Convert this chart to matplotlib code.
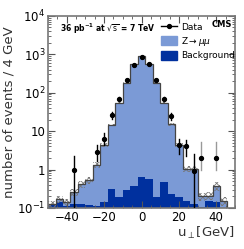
"""u_perp distribution, Z->mumu selection, 36 pb-1 at 7 TeV."""
import numpy as np
import matplotlib
matplotlib.use('Agg')
import matplotlib.pyplot as plt
from matplotlib.lines import Line2D
from matplotlib.patches import Patch

# 4 GeV bins from -50 to 50
bin_edges = np.arange(-50, 54, 4)

# stacked MC total (Z->mumu + background), read per bin
mc_total = [0.125, 0.17, 0.14, 0.26, 0.42, 0.52, 1.3, 4.3, 14.5, 55, 180, 550, 900,
            550, 180, 55, 15, 4.4, 1.05, 1.05, 0.2, 0.21, 0.37, 0.15, 0.08]
background = [0.12, 0.14, 0.115, 0.13, 0.13, 0.12, 0.11, 0.14, 0.31, 0.19, 0.30, 0.38, 0.62,
              0.56, 0.19, 0.48, 0.23, 0.19, 0.15, 0.125, 0.105, 0.15, 0.14, 0.10, 0.06]
# relative MC uncertainty (hatched band)
mc_rel_unc = [0.22, 0.22, 0.22, 0.2, 0.2, 0.2, 0.18, 0.12, 0.08, 0.05, 0.04, 0.03, 0.03,
              0.03, 0.04, 0.05, 0.08, 0.12, 0.18, 0.18, 0.25, 0.25, 0.25, 0.25, 0.25]

data_x = [-36, -24, -20, -16, -12, -8, -4, 0, 4, 8, 12, 16, 20, 24, 28, 32, 40]
data_y = [1.0, 2.8, 6.3, 26, 69, 215, 520, 830, 550, 215, 69, 25, 4.4, 4.0, 0.9, 2.0, 2.0]
data_lo = [0.05, 1.7, 4.4, 21, 61, 202, 503, 805, 528, 202, 61, 20, 2.5, 2.2, 0.05, 1.0, 1.0]
data_hi = [2.3, 4.3, 8.7, 31, 77, 228, 540, 855, 572, 228, 77, 30, 6.3, 6.0, 2.5, 5.3, 5.3]
data_gray = [False] * 15 + [True, True]

light_blue = '#7b9ad6'
dark_blue = '#00309e'

plt.rcParams['hatch.linewidth'] = 0.6
fig = plt.figure(figsize=(2.44, 2.49), dpi=100)
ax = fig.add_axes([0.197, 0.165, 0.766, 0.771])

mc_total = np.array(mc_total)
unc = np.array(mc_rel_unc)
ax.stairs(mc_total, bin_edges, baseline=1e-3, fill=True, color=light_blue, lw=0)
ax.stairs(background, bin_edges, baseline=1e-3, fill=True, color=dark_blue, lw=0)
ax.stairs(mc_total * (1 + unc), bin_edges, baseline=mc_total * (1 - unc), fill=True,
          facecolor='none', edgecolor='#777777', hatch='xxxxxx', lw=0)
ax.stairs(mc_total, bin_edges, baseline=None, color='#444444', lw=0.9)

for x, y, lo, hi, g in zip(data_x, data_y, data_lo, data_hi, data_gray):
    c = '#999999' if g else 'black'
    ax.plot([x, x], [lo, hi], color=c, lw=1.0, zorder=5)
    ax.plot(x, y, 'o', color='black', ms=2.8, zorder=6)

ax.set_yscale('log')
ax.set_ylim(0.1, 1e4)
ax.set_xlim(-50, 50)
ax.set_xticks([-40, -20, 0, 20, 40])
ax.tick_params(which='both', direction='in', top=True, right=True, labelsize=8.5,
               color='#555555', pad=2)
ax.tick_params(which='major', length=5)
ax.tick_params(which='minor', length=2.5)
ax.xaxis.set_minor_locator(matplotlib.ticker.MultipleLocator(5))
ax.set_yticks([0.1, 1, 10, 100, 1000, 10000])
ax.set_yticklabels(['$10^{-1}$', '1', '10', '$10^2$', '$10^3$', '$10^4$'])
for s in ax.spines.values():
    s.set_color('#777777')
    s.set_linewidth(1.2)

ax.set_ylabel('number of events / 4 GeV', fontsize=9.5, color='#333333', labelpad=1)
ax.set_xlabel(r'u$_{\perp}$[GeV]', fontsize=9.5, color='#333333', loc='right', labelpad=1)

ax.text(0.065, 0.935, r'36 pb$^{\mathbf{-1}}$ at $\sqrt{\mathrm{s}}$ = 7 TeV', transform=ax.transAxes,
        fontsize=5.5, fontweight='bold', va='center')
ax.text(0.985, 0.955, 'CMS', transform=ax.transAxes, fontsize=6, fontweight='bold',
        ha='right', va='center')

h_data = Line2D([], [], color='black', marker='o', ms=2.8, lw=1)
h_z = Patch(color=light_blue)
h_b = Patch(color=dark_blue)
ax.legend([h_data, h_z, h_b], ['Data', r'Z$\rightarrow\mu\mu$', 'Background'],
          loc='upper left', bbox_to_anchor=(0.585, 0.985), frameon=False, fontsize=6.5,
          handlelength=1.8, handleheight=1.2, handletextpad=0.4, labelspacing=0.3,
          borderaxespad=0)

fig.savefig('out.png', dpi=100)
